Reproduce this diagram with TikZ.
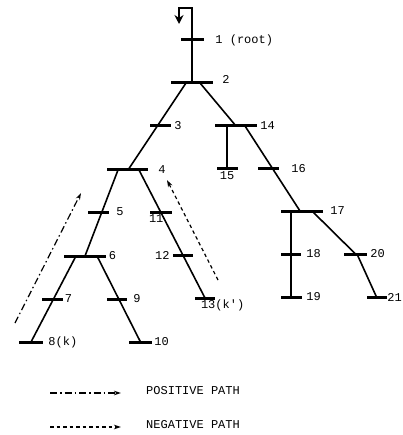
\documentclass[tikz,border=0pt]{standalone}
\usepackage{fontspec}
\newfontfamily\typefont{Liberation Mono}
\usetikzlibrary{arrows.meta,positioning}
\tikzset{
  bus_bar/.style={fill=black,draw=none,inner sep=0pt,minimum height=3pt,minimum width=#1},
  bus_lbl/.style={inner sep=0pt,font=\typefont\fontsize{12}{14}\selectfont},
  feeder/.style={draw=black,line width=1.6pt},
  arr_src/.style={-{Stealth[length=9pt,width=9pt]},draw=black,line width=1.6pt},
  arr_pos/.style={-{Stealth[length=7pt,width=4.5pt]},draw=black,line width=1.2pt,
    dash pattern=on 7pt off 3pt on 1.5pt off 3pt},
  arr_neg/.style={-{Stealth[length=7pt,width=4.5pt]},draw=black,line width=1.2pt,
    dash pattern=on 3.5pt off 3pt},
}
\begin{document}
\begin{tikzpicture}[x=1pt,y=-1pt]
    \useasboundingbox (0,0) rectangle (402,435);

    \node[bus_bar=23pt] (b1) at (192.5,40) {};
    \node[bus_bar=42pt] (b2) at (192,83) {};
    \node[bus_bar=21pt] (b3) at (160.5,126) {};
    \node[bus_bar=41pt] (b4) at (127.5,170) {};
    \node[bus_bar=21pt] (b5) at (98,212) {};
    \node[bus_bar=42pt] (b6) at (85,256) {};
    \node[bus_bar=21pt] (b7) at (52.5,299) {};
    \node[bus_bar=24pt] (b8) at (31,342) {};
    \node[bus_bar=20pt] (b9) at (117,299) {};
    \node[bus_bar=23pt] (b10) at (140.5,342) {};
    \node[bus_bar=22pt] (b11) at (161,212) {};
    \node[bus_bar=20pt] (b12) at (183,255) {};
    \node[bus_bar=20pt] (b13) at (205,298) {};
    \node[bus_bar=42pt] (b14) at (236,126) {};
    \node[bus_bar=21pt] (b15) at (227,169) {};
    \node[bus_bar=21pt] (b16) at (268.5,169) {};
    \node[bus_bar=42pt] (b17) at (302,211) {};
    \node[bus_bar=20pt] (b18) at (291,254) {};
    \node[bus_bar=21pt] (b19) at (291,297) {};
    \node[bus_bar=23pt] (b20) at (355.5,254) {};
    \node[bus_bar=20pt] (b21) at (376.5,297) {};

    \node[bus_lbl,right=11pt of b1] (l1) {1 (root)};
    \node[bus_lbl,right=9pt of b2,yshift=4pt] (l2) {2};
    \node[bus_lbl,right=3pt of b3] (l3) {3};
    \node[bus_lbl,right=10pt of b4] (l4) {4};
    \node[bus_lbl,right=7.5pt of b5] (l5) {5};
    \node[bus_lbl,right=2.5pt of b6] (l6) {6};
    \node[bus_lbl,right=1.5pt of b7] (l7) {7};
    \node[bus_lbl,right=5pt of b8] (l8) {8(k)};
    \node[bus_lbl,right=6pt of b9] (l9) {9};
    \node[bus_lbl,right=2pt of b10] (l10) {10};
    \node[bus_lbl,below right=1pt and -1pt of b11.south west] (l11) {11};
    \node[bus_lbl,left=3pt of b12] (l12) {12};
    \node[bus_lbl,below right=0pt and 6pt of b13.south west] (l13) {13(k')};
    \node[bus_lbl,right=3pt of b14] (l14) {14};
    \node[bus_lbl,below=1pt of b15] (l15) {15};
    \node[bus_lbl,right=12pt of b16] (l16) {16};
    \node[bus_lbl,right=7pt of b17] (l17) {17};
    \node[bus_lbl,right=5pt of b18] (l18) {18};
    \node[bus_lbl,right=4.5pt of b19] (l19) {19};
    \node[bus_lbl,right=3pt of b20] (l20) {20};
    \node[bus_lbl,right=0.5pt of b21] (l21) {21};

    \coordinate (src) at (192,8);
    \coordinate (src_end) at (179,24);
    \coordinate (pos_tail) at (15,323);
    \coordinate (pos_head) at (81,193);
    \coordinate (neg_tail) at (218,280);
    \coordinate (neg_head) at (167,180);
    \coordinate (key_pos_a) at (50,393);
    \coordinate (key_pos_b) at (121,393);
    \coordinate (key_neg_a) at (50,427);
    \coordinate (key_neg_b) at (121,427);
    \node[bus_lbl,anchor=west] (key_pos) at (146,391) {POSITIVE PATH};
    \node[bus_lbl,anchor=west] (key_neg) at (146,425) {NEGATIVE PATH};

    \draw[arr_src](b2.center)--(src)-|(src_end);
    \draw[feeder]([xshift=-6pt]b2.center)--([xshift=0.5pt]b4.center);
    \draw[feeder]([xshift=8pt]b2.center)--(b14.center);
    \draw[feeder]([xshift=-9pt]b14.center)--(b15.center);
    \draw[feeder]([xshift=9pt]b14.center)--([xshift=-2pt]b17.center);
    \draw[feeder]([xshift=-11pt]b17.center)--(b19.center);
    \draw[feeder]([xshift=10pt]b17.center)--(b20.center);\draw[feeder]([xshift=1.5pt]b20.center)--(b21.center);
    \draw[feeder]([xshift=-9.5pt]b4.center)--(b6.center);\draw[feeder]([xshift=11.5pt]b4.center)--(b13.center);
    \draw[feeder]([xshift=-9pt]b6.center)--(b8.center);\draw[feeder]([xshift=12pt]b6.center)--(b10.center);

    \draw[arr_pos](pos_tail)--(pos_head);\draw[arr_neg](neg_tail)--(neg_head);
    \draw[arr_pos](key_pos_a)--(key_pos_b);\draw[arr_neg](key_neg_a)--(key_neg_b);
  \end{tikzpicture}
\end{document}
